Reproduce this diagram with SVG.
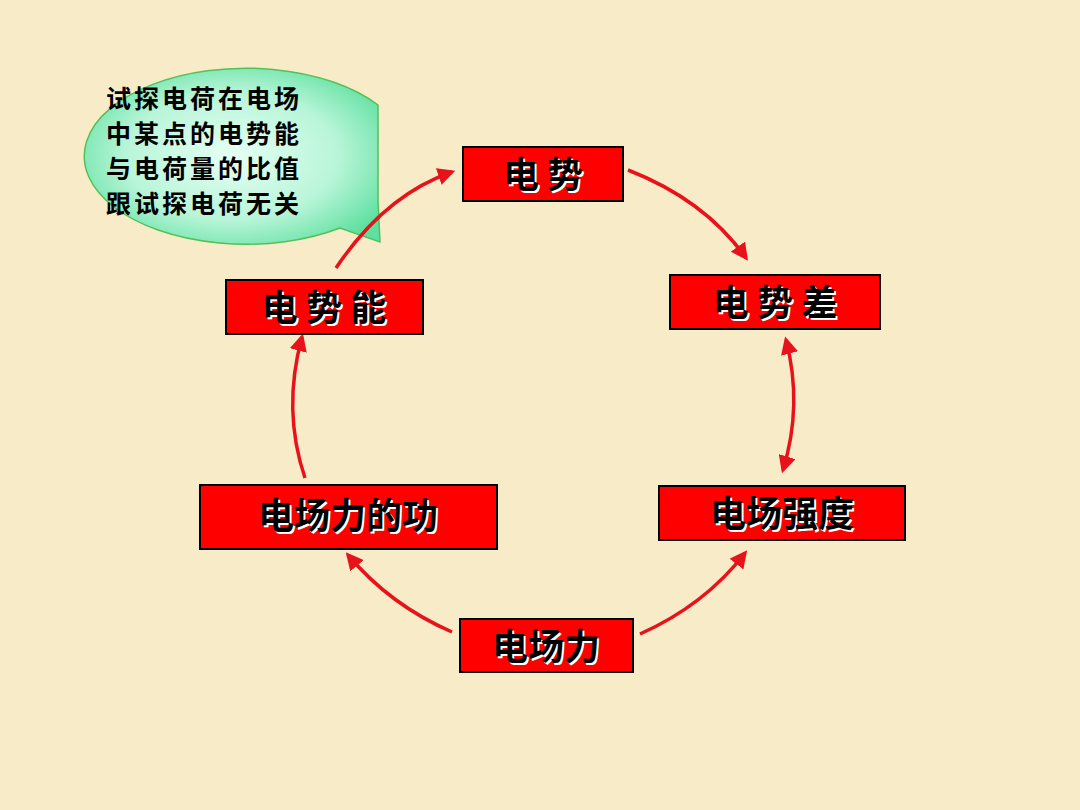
<svg xmlns="http://www.w3.org/2000/svg" width="1080" height="810" viewBox="0 0 1080 810">
<defs>
<radialGradient id="g" cx="0.5" cy="0.5" r="0.6"><stop offset="0" stop-color="#e6fff4"/><stop offset="0.6" stop-color="#b8f5d8"/><stop offset="1" stop-color="#5fe0a0"/></radialGradient>
<marker id="ah" viewBox="0 0 10 10" refX="8" refY="5" markerWidth="5" markerHeight="5" orient="auto-start-reverse"><path d="M0,0 L10,5 L0,10 z" fill="#e8121a"/></marker>
<style>
.box{fill:#ff0000;stroke:#000;stroke-width:2}
.t{font-family:"Noto Sans CJK SC",sans-serif;font-weight:bold;font-size:36px;text-anchor:middle}
.sh{fill:#fff}
.bl{fill:#000}
.c{fill:none;stroke:#e8121a;stroke-width:3.5;marker-end:url(#ah)}
.ct{font-family:"Noto Sans CJK SC",sans-serif;font-weight:bold;font-size:25px;fill:#000;letter-spacing:3px}
</style>
</defs>
<rect width="1080" height="810" fill="#f7ebc8"/>
<g id="callout">
<path d="M378,105 A162,88 0 1 0 340,228 L380,242 L378,200 Z" fill="url(#g)" stroke="#55c05a" stroke-width="1.5"/>
<text class="ct" x="106" y="108">试探电荷在电场</text>
<text class="ct" x="106" y="143">中某点的电势能</text>
<text class="ct" x="106" y="178">与电荷量的比值</text>
<text class="ct" x="106" y="213">跟试探电荷无关</text>
</g>
<g id="connectors">
<path class="c" d="M336,268 Q385,195 452,172"/>
<path class="c" d="M628,170 Q705,200 746,258"/>
<path class="c" style="marker-start:url(#ah)" d="M786,340 Q803,405 783,470"/>
<path class="c" d="M640,634 Q705,605 745,553"/>
<path class="c" d="M452,632 Q390,605 348,555"/>
<path class="c" d="M305,478 Q282,410 302,337"/>
</g>
<g id="n1"><rect class="box" x="463" y="147" width="160" height="54"/><text class="t sh" x="545" y="190">电 势</text><text class="t bl" x="543" y="188">电 势</text></g>
<g id="n2"><rect class="box" x="670" y="275" width="210" height="54"/><text class="t sh" x="777" y="318">电 势 差</text><text class="t bl" x="775" y="316">电 势 差</text></g>
<g id="n3"><rect class="box" x="226" y="280" width="197" height="54"/><text class="t sh" x="326" y="323">电 势 能</text><text class="t bl" x="324" y="321">电 势 能</text></g>
<g id="n4"><rect class="box" x="200" y="485" width="297" height="64"/><text class="t sh" x="350" y="531">电场力的功</text><text class="t bl" x="348" y="529">电场力的功</text></g>
<g id="n5"><rect class="box" x="659" y="486" width="246" height="54"/><text class="t sh" x="784" y="529">电场强度</text><text class="t bl" x="782" y="527">电场强度</text></g>
<g id="n6"><rect class="box" x="460" y="619" width="173" height="53"/><text class="t sh" x="548" y="662">电场力</text><text class="t bl" x="546" y="660">电场力</text></g>
</svg>
